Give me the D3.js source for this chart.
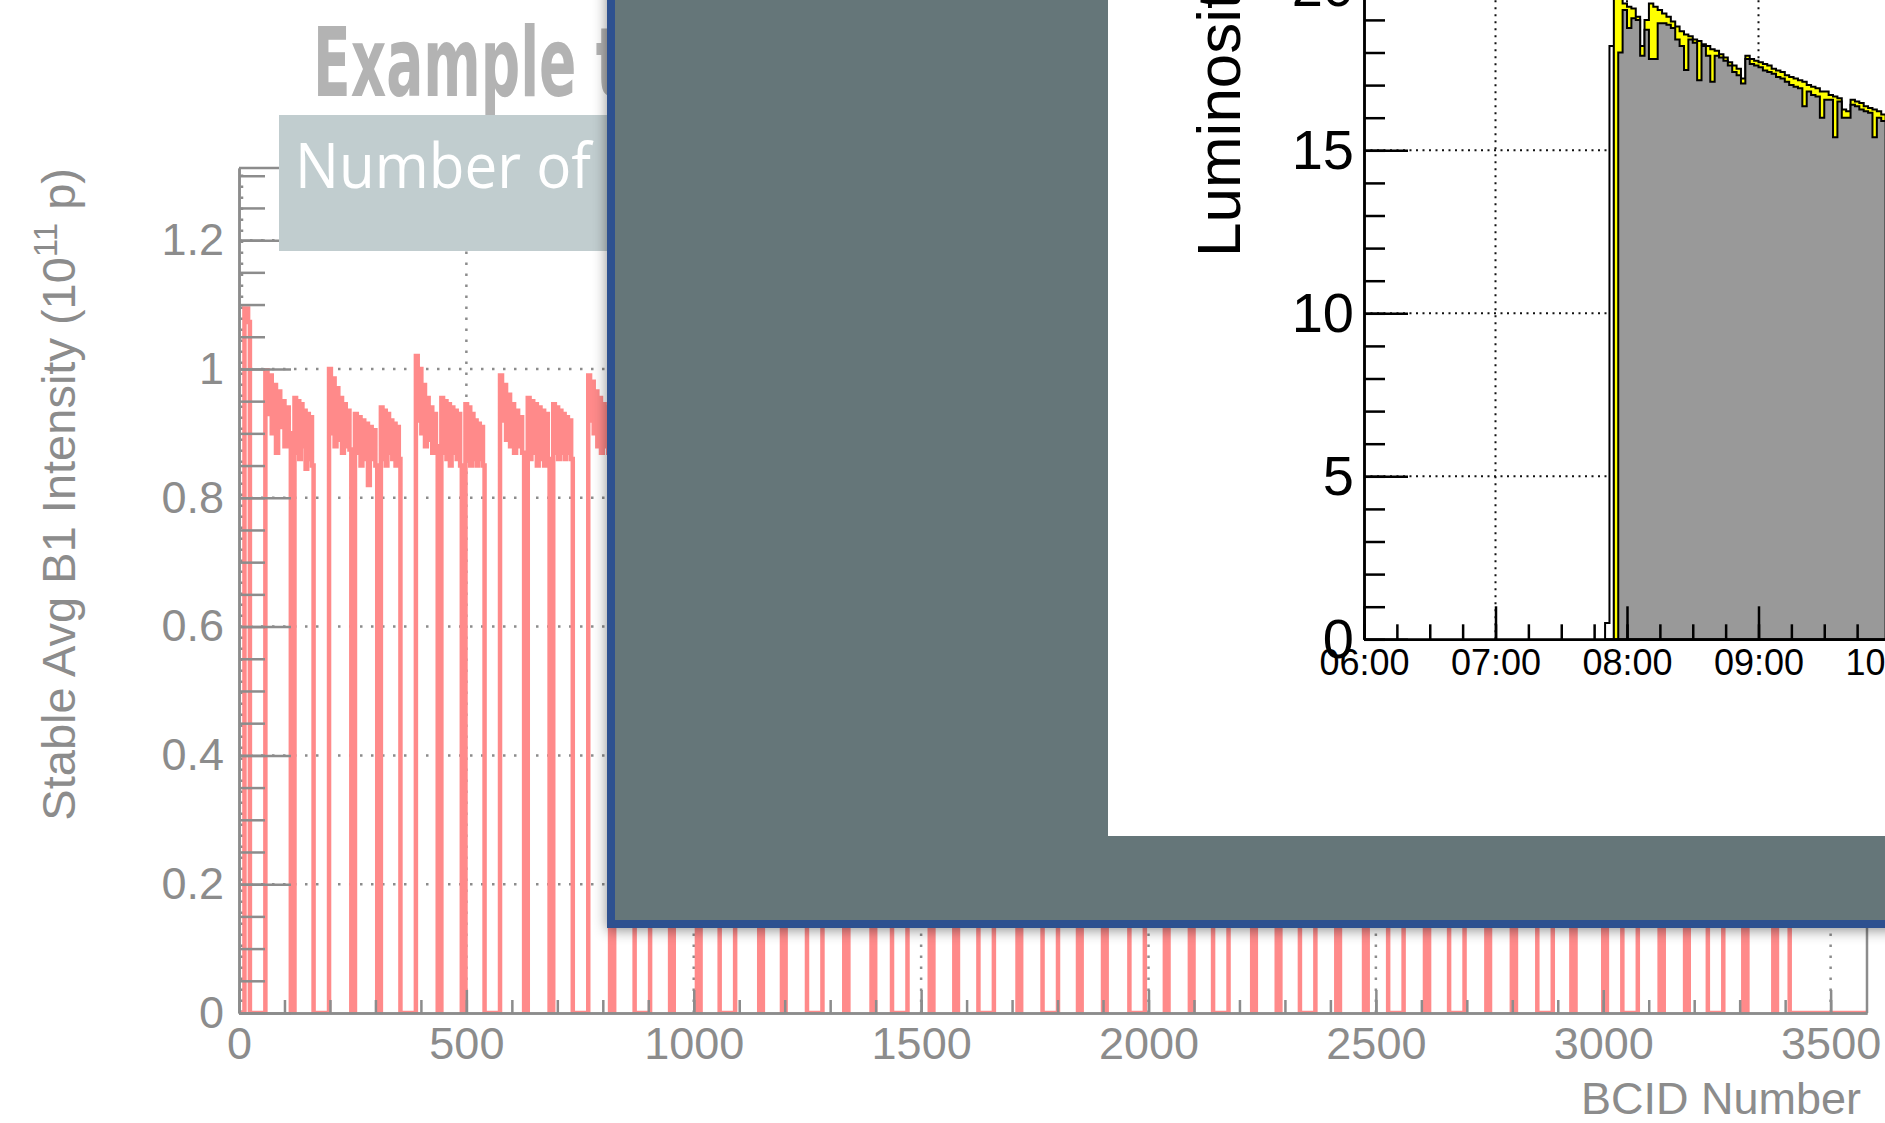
<!DOCTYPE html>
<html lang="en">
<head>
<meta charset="UTF-8">
<title>Bunch intensity and luminosity</title>
<script src="https://d3js.org/d3.v7.min.js"></script>
<style>
  body { margin: 0; background: #fff; }
  svg { display: block; }
</style>
</head>
<body>
<svg width="1885" height="1123"></svg>
<script>
// ---- background plot: average B1 intensity per BCID ----
const bcidTicks = [0, 500, 1000, 1500, 2000, 2500, 3000, 3500];
const intensityTicks = [0, 0.2, 0.4, 0.6, 0.8, 1, 1.2];

// bunch trains (BCID first / last)
const trainStart = [12, 58, 122, 198, 255, 312, 389, 445, 498, 574, 635, 691, 768, 825, 904, 956, 1015,
  1091, 1152, 1202, 1283, 1340, 1399, 1470, 1527, 1581, 1660, 1720, 1801, 1853, 1908, 1992, 2044, 2099,
  2176, 2236, 2290, 2367, 2421, 2482, 2561, 2617, 2695, 2751, 2808, 2889, 2939, 3008, 3076, 3133, 3188,
  3264, 3317, 3382];
const trainEnd = [24, 114, 164, 247, 304, 355, 437, 490, 540, 627, 683, 734, 816, 870, 948, 1007, 1057,
  1144, 1194, 1249, 1331, 1391, 1436, 1519, 1573, 1626, 1712, 1767, 1845, 1900, 1958, 2036, 2091, 2142,
  2228, 2282, 2333, 2413, 2474, 2527, 2608, 2661, 2743, 2799, 2855, 2930, 3000, 3042, 3124, 3180, 3230,
  3308, 3374, 3410];
// intensity along the visible trains (10^11 p)
const trainProfiles = [
  [1.094, 1.094, 1.073],
  [0.998, 0.93, 0.99, 0.90, 0.975, 0.87, 0.965, 0.91, 0.95, 0.88, 0.94, 0.90],
  [0.955, 0.87, 0.95, 0.86, 0.945, 0.88, 0.935, 0.845, 0.93, 0.86, 0.925, 0.85],
  [1.0, 0.90, 0.985, 0.88, 0.97, 0.89, 0.955, 0.87, 0.945, 0.88, 0.935, 0.875],
  [0.93, 0.87, 0.925, 0.85, 0.92, 0.86, 0.915, 0.82, 0.91, 0.86, 0.905, 0.85],
  [0.94, 0.86, 0.935, 0.85, 0.93, 0.87, 0.92, 0.86, 0.915, 0.85, 0.91, 0.86],
  [1.02, 0.92, 1.0, 0.90, 0.975, 0.88, 0.955, 0.89, 0.94, 0.87, 0.93, 0.88],
  [0.955, 0.87, 0.95, 0.86, 0.945, 0.85, 0.94, 0.87, 0.935, 0.86, 0.93, 0.85],
  [0.945, 0.86, 0.94, 0.85, 0.93, 0.86, 0.92, 0.85, 0.915, 0.86, 0.91, 0.85],
  [0.99, 0.92, 0.975, 0.89, 0.96, 0.88, 0.945, 0.87, 0.935, 0.88, 0.925, 0.87],
  [0.955, 0.86, 0.95, 0.87, 0.945, 0.85, 0.94, 0.86, 0.935, 0.85, 0.93, 0.86],
  [0.945, 0.87, 0.94, 0.86, 0.935, 0.87, 0.93, 0.86, 0.925, 0.87, 0.92, 0.86],
  [0.99, 0.92, 0.98, 0.90, 0.965, 0.88, 0.955, 0.87, 0.945, 0.88, 0.94, 0.87]
];
const hiddenTrainLevel = 0.9; // trains under the overlay

// ---- inset: luminosity vs time ----
const timeTicks = ["06:00", "07:00", "08:00", "09:00", "10:00"];
const lumiTicks = [0, 5, 10, 15, 20];
const binMinutes = 2;
const whiteStart = "07:50";
const whiteVals = [0.5, 18.2];
const yellowStart = "07:54";
const yellowVals = [20.5, 20.3, 19.5, 19.4, 19.35, 19.1, 18.2, 19.0, 19.5, 19.4, 19.3, 19.2, 19.1, 18.95,
  18.8, 18.65, 18.55, 18.5, 18.4, 18.35, 18.25, 18.2, 18.1, 18.05, 17.95, 17.85, 17.7, 17.6, 17.5, 17.2,
  17.9, 17.8, 17.75, 17.7, 17.65, 17.6, 17.5, 17.45, 17.4, 17.3, 17.25, 17.2, 17.15, 17.1, 17.0, 16.95,
  16.9, 16.8, 16.8, 16.7, 16.65, 16.6, 16.25, 16.2, 16.55, 16.5, 16.45, 16.35, 16.3, 16.25, 16.2, 16.1];
const greyStart = "07:56";
const greyVals = [18.0, 19.3, 18.75, 19.05, 19.0, 17.9, 18.7, 17.8, 17.8, 18.9, 18.9, 18.85, 18.75, 18.4,
  18.2, 17.46, 18.4, 18.3, 17.15, 18.2, 17.9, 17.1, 17.9, 17.85, 17.75, 17.6, 17.4, 17.3, 17.05, 17.8,
  17.65, 17.6, 17.55, 17.45, 17.4, 17.35, 17.25, 17.2, 17.1, 17.0, 16.95, 16.9, 16.35, 16.8, 16.7, 16.65,
  16.0, 16.55, 16.55, 15.4, 16.5, 16.0, 16.0, 16.4, 16.35, 16.25, 16.2, 16.15, 15.4, 16.0, 15.9];

const svg = d3.select("svg");
const defs = svg.append("defs");
const greyInk = "#8c8c8c";
const helv = "'Liberation Sans', Arial, Helvetica, sans-serif";

// ================= background chart =================
const xB = d3.scaleLinear().domain([0, 3580]).range([239, 1867]);
const yB = d3.scaleLinear().domain([0, 1.312]).range([1013, 168]);

defs.append("clipPath").attr("id", "bgClip").append("rect")
  .attr("x", xB(0)).attr("y", yB.range()[1])
  .attr("width", xB.range()[1] - xB(0)).attr("height", yB(0) - yB.range()[1]);

const bg = svg.append("g");

// dotted grid
bg.append("g").selectAll("line").data(intensityTicks.filter(d => d > 0)).join("line")
  .attr("x1", xB(0)).attr("x2", xB.range()[1])
  .attr("y1", d => yB(d)).attr("y2", d => yB(d))
  .attr("stroke", greyInk).attr("stroke-width", 2.5).attr("stroke-dasharray", "2.5 8.5");
bg.append("g").selectAll("line").data(bcidTicks).join("line")
  .attr("x1", d => xB(d) + (d === 0 ? 3 : 0)).attr("x2", d => xB(d) + (d === 0 ? 3 : 0))
  .attr("y1", yB(0)).attr("y2", yB.range()[1])
  .attr("stroke", greyInk).attr("stroke-width", 2.5).attr("stroke-dasharray", "2.5 8.5");

// histogram path
const bgPts = [];
let prevEnd = 0;
trainStart.forEach((s, i) => {
  bgPts.push([prevEnd, 0]);
  const e = trainEnd[i];
  const prof = trainProfiles[i] || [hiddenTrainLevel];
  const w = (e - s) / prof.length;
  prof.forEach((v, j) => bgPts.push([s + j * w, v]));
  prevEnd = e;
});
bgPts.push([prevEnd, 0]);
bgPts.push([xB.domain()[1], 0]);

bg.append("path")
  .datum(bgPts)
  .attr("clip-path", "url(#bgClip)")
  .attr("fill", "none")
  .attr("stroke", "#ff8a8a")
  .attr("stroke-width", 4.5)
  .attr("d", d3.line().x(d => xB(d[0])).y(d => yB(d[1])).curve(d3.curveStepAfter));

// frame
bg.append("path")
  .attr("d", `M${xB(0)},${yB.range()[1]}H${xB.range()[1]}V${yB(0)}`)
  .attr("fill", "none").attr("stroke", greyInk).attr("stroke-width", 2.5);

function styleAxis(g, size) {
  g.attr("font-family", helv).attr("font-size", size);
  g.select(".domain").attr("stroke", greyInk).attr("stroke-width", 2.5);
  g.selectAll(".tick line").attr("stroke", greyInk).attr("stroke-width", 2.5);
  g.selectAll(".tick text").attr("fill", greyInk);
}

// x axis (minor then major)
bg.append("g").attr("transform", `translate(0,${yB(0)})`)
  .call(d3.axisBottom(xB).tickValues(d3.range(0, 3580, 100)).tickSize(-13).tickSizeOuter(0).tickFormat(""))
  .call(g => styleAxis(g, 45));
bg.append("g").attr("transform", `translate(0,${yB(0)})`)
  .call(d3.axisBottom(xB).tickValues(bcidTicks).tickSize(-23).tickSizeOuter(0).tickPadding(14)
    .tickFormat(d3.format("d")))
  .call(g => styleAxis(g, 45));

// y axis
bg.append("g").attr("transform", `translate(${xB(0)},0)`)
  .call(d3.axisLeft(yB).tickValues(d3.range(0, 1.31, 0.05)).tickSize(-26).tickSizeOuter(0).tickFormat(""))
  .call(g => styleAxis(g, 45));
bg.append("g").attr("transform", `translate(${xB(0)},0)`)
  .call(d3.axisLeft(yB).tickValues(intensityTicks).tickSize(-52).tickSizeOuter(0).tickPadding(15)
    .tickFormat(d3.format("~g")))
  .call(g => styleAxis(g, 45));

bg.append("text")
  .attr("x", 1861).attr("y", 1114)
  .attr("text-anchor", "end")
  .attr("font-family", helv).attr("font-size", 45).attr("fill", greyInk)
  .text("BCID Number");

const yTitle = bg.append("text")
  .attr("transform", `translate(75,${yB.range()[1]}) rotate(-90)`)
  .attr("text-anchor", "end")
  .attr("font-family", helv).attr("font-size", 47).attr("fill", greyInk);
yTitle.append("tspan").text("Stable Avg B1 Intensity (10");
yTitle.append("tspan").attr("font-size", 33).attr("dy", -18).text("11");
yTitle.append("tspan").attr("dy", 18).text(" p)");

// ================= slide title + label box =================
svg.append("text")
  .attr("x", 313).attr("y", 96)
  .attr("font-family", "'DejaVu Sans', sans-serif").attr("font-weight", "bold")
  .attr("font-size", 96).attr("fill", "#b3b3b3")
  .attr("textLength", 309).attr("lengthAdjust", "spacingAndGlyphs")
  .text("Example t");

svg.append("rect")
  .attr("x", 279).attr("y", 115).attr("width", 340).attr("height", 136)
  .attr("fill", "#c1cdcf");
svg.append("text")
  .attr("x", 295).attr("y", 188)
  .attr("font-family", "'Open Sans', 'Noto Sans', sans-serif")
  .attr("font-size", 62).attr("fill", "#ffffff")
  .attr("textLength", 296).attr("lengthAdjust", "spacingAndGlyphs")
  .text("Number of");

// ================= overlay box =================
const shadow = defs.append("filter").attr("id", "shadow")
  .attr("x", "-10%").attr("y", "-10%").attr("width", "130%").attr("height", "130%");
shadow.append("feDropShadow").attr("dx", 0).attr("dy", 2).attr("stdDeviation", 7)
  .attr("flood-color", "#000").attr("flood-opacity", 0.45);

svg.append("rect")
  .attr("x", 607).attr("y", -40).attr("width", 1400).attr("height", 968)
  .attr("fill", "#2f5190").attr("filter", "url(#shadow)");
svg.append("rect")
  .attr("x", 615).attr("y", -40).attr("width", 1400).attr("height", 960)
  .attr("fill", "#657679");
svg.append("rect")
  .attr("x", 1108).attr("y", -40).attr("width", 900).attr("height", 876)
  .attr("fill", "#ffffff");

// ================= inset: luminosity =================
const parseT = d3.timeParse("%H:%M");
const xT = d3.scaleTime().domain([parseT("06:00"), parseT("10:00")]).range([1364, 1890]);
const yL = d3.scaleLinear().domain([0, 20]).range([639.3, -12.7]);

defs.append("clipPath").attr("id", "insetClip").append("rect")
  .attr("x", 1108).attr("y", 0).attr("width", 800).attr("height", 836);

const ins = svg.append("g").attr("clip-path", "url(#insetClip)");

// grid
ins.append("g").selectAll("line").data(lumiTicks.filter(d => d > 0)).join("line")
  .attr("x1", xT.range()[0]).attr("x2", xT.range()[1])
  .attr("y1", d => yL(d)).attr("y2", d => yL(d))
  .attr("stroke", "#111").attr("stroke-width", 2).attr("stroke-dasharray", "2 4.5");
ins.append("g").selectAll("line").data(timeTicks.slice(1).map(parseT)).join("line")
  .attr("x1", d => xT(d)).attr("x2", d => xT(d))
  .attr("y1", yL(0)).attr("y2", -20)
  .attr("stroke", "#111").attr("stroke-width", 2).attr("stroke-dasharray", "2 5");

// step histograms
function stepArea(startStr, vals) {
  const t0 = parseT(startStr);
  const pts = vals.map((v, i) => [d3.timeMinute.offset(t0, i * binMinutes), v]);
  pts.push([d3.timeMinute.offset(t0, vals.length * binMinutes), vals[vals.length - 1]]);
  return d3.area().x(d => xT(d[0])).y0(yL(0)).y1(d => yL(d[1])).curve(d3.curveStepAfter)(pts);
}
[[whiteStart, whiteVals, "#ffffff"], [yellowStart, yellowVals, "#ffff00"], [greyStart, greyVals, "#999999"]]
  .forEach(([s, vals, col]) => {
    ins.append("path")
      .attr("d", stepArea(s, vals))
      .attr("fill", col).attr("stroke", "#000").attr("stroke-width", 2)
      .attr("stroke-linejoin", "miter");
  });

function styleInset(g, size) {
  g.attr("font-family", helv).attr("font-size", size);
  g.select(".domain").attr("stroke", "#000").attr("stroke-width", 2.5);
  g.selectAll(".tick line").attr("stroke", "#000").attr("stroke-width", 2.5);
  g.selectAll(".tick text").attr("fill", "#000");
}

ins.append("g").attr("transform", `translate(0,${yL(0)})`)
  .call(d3.axisBottom(xT).ticks(d3.timeMinute.every(15)).tickSize(-15).tickSizeOuter(0).tickFormat(""))
  .call(g => styleInset(g, 36));
ins.append("g").attr("transform", `translate(0,${yL(0)})`)
  .call(d3.axisBottom(xT).tickValues(timeTicks.map(parseT)).tickSize(-33).tickSizeOuter(0)
    .tickPadding(10).tickFormat(d3.timeFormat("%H:%M")))
  .call(g => styleInset(g, 36));

ins.append("g").attr("transform", `translate(${xT.range()[0]},0)`)
  .call(d3.axisLeft(yL).tickValues(d3.range(0, 21, 1)).tickSize(-21).tickSizeOuter(0).tickFormat(""))
  .call(g => styleInset(g, 56));
ins.append("g").attr("transform", `translate(${xT.range()[0]},0)`)
  .call(d3.axisLeft(yL).tickValues(lumiTicks).tickSize(-44).tickSizeOuter(0).tickPadding(10))
  .call(g => styleInset(g, 56));

ins.append("text")
  .attr("transform", "translate(1240,257) rotate(-90)")
  .attr("text-anchor", "start")
  .attr("font-family", helv).attr("font-size", 62).attr("fill", "#000")
  .text("Luminosity");
</script>
</body>
</html>
